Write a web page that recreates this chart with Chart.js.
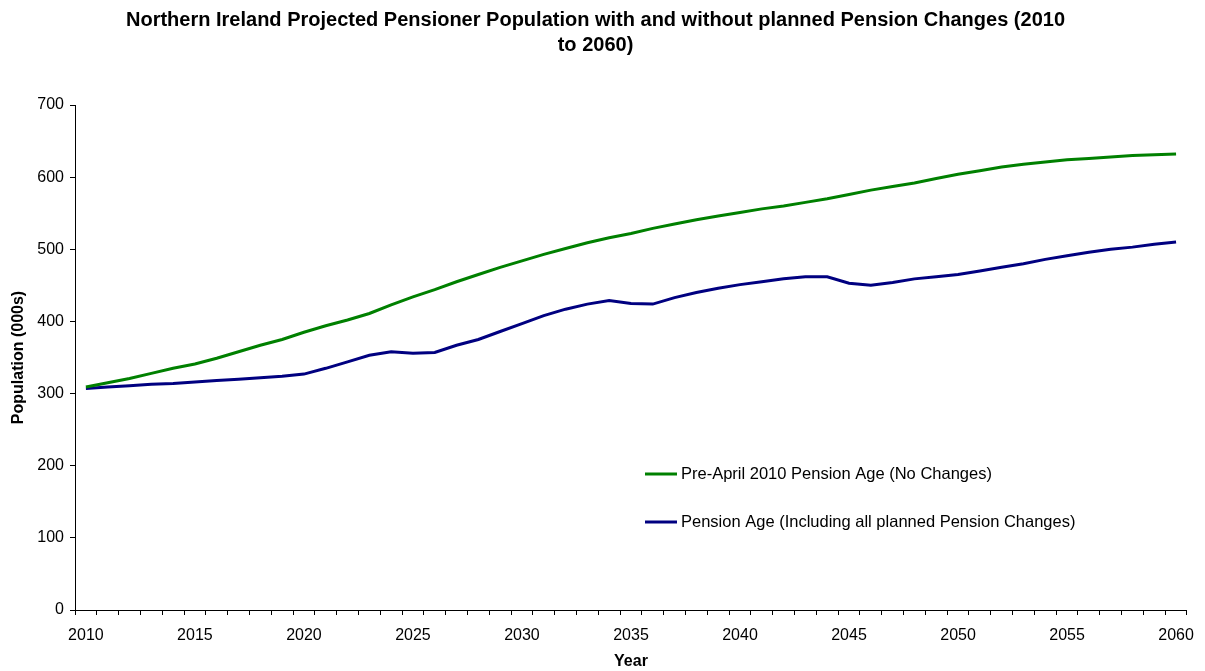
<!DOCTYPE html>
<html>
<head>
<meta charset="utf-8">
<title>Northern Ireland Projected Pensioner Population</title>
<script src="https://cdn.jsdelivr.net/npm/chart.js@4.4.1/dist/chart.umd.min.js"></script>
<style>
  html, body { margin: 0; padding: 0; background: #fff; }
  #chart { display: block; }
</style>
</head>
<body>
<canvas id="chart" width="1205" height="671"></canvas>
<script>
const years = [
  "2010", "2011", "2012", "2013", "2014", "2015", "2016", "2017", "2018", "2019",
  "2020", "2021", "2022", "2023", "2024", "2025", "2026", "2027", "2028", "2029",
  "2030", "2031", "2032", "2033", "2034", "2035", "2036", "2037", "2038", "2039",
  "2040", "2041", "2042", "2043", "2044", "2045", "2046", "2047", "2048", "2049",
  "2050", "2051", "2052", "2053", "2054", "2055", "2056", "2057", "2058", "2059",
  "2060",
];

// Pensioners (000s) under the pre-April 2010 pension age
const noChanges = [
  309, 315, 321, 328, 335, 341, 349, 358, 367, 375,
  385, 394, 402, 411, 423, 434, 444, 455, 465, 475,
  484, 493, 501, 509, 516, 522, 529, 535, 541, 546,
  551, 556, 560, 565, 570, 576, 582, 587, 592, 598,
  604, 609, 614, 618, 621, 624, 626, 628, 630, 631,
  632,
];

// Pensioners (000s) with all planned pension age changes
const withChanges = [
  307, 309, 311, 313, 314, 316, 318, 320, 322, 324,
  327, 335, 344, 353, 358, 356, 357, 367, 375, 386,
  397, 408, 417, 424, 429, 425, 424, 433, 440, 446,
  451, 455, 459, 462, 462, 453, 450, 454, 459, 462,
  465, 470, 475, 480, 486, 491, 496, 500, 503, 507,
  510,
];

const yTicks = [0, 100, 200, 300, 400, 500, 600, 700];

const FONT = "'Liberation Sans', Arial, Helvetica, sans-serif";
const GREEN = "#008000";
const NAVY = "#000080";

const series = [
  { label: "Pre-April 2010 Pension Age (No Changes)", data: noChanges, color: GREEN },
  { label: "Pension Age (Including all planned Pension Changes)", data: withChanges, color: NAVY },
];

// legend sits inside the plot, below the lines
const insideLegend = {
  id: "insideLegend",
  afterDraw(chart) {
    const { ctx, chartArea } = chart;
    const x0 = chartArea.left + 570;
    const rows = [chartArea.top + 369, chartArea.top + 417];
    ctx.save();
    ctx.font = "16.5px " + FONT;
    ctx.textBaseline = "middle";
    ctx.textAlign = "left";
    series.forEach((s, i) => {
      ctx.strokeStyle = s.color;
      ctx.lineWidth = 3;
      ctx.beginPath();
      ctx.moveTo(x0, rows[i]);
      ctx.lineTo(x0 + 32, rows[i]);
      ctx.stroke();
      ctx.fillStyle = "#000";
      ctx.fillText(s.label, x0 + 36, rows[i]);
    });
    ctx.restore();
  },
};

new Chart(document.getElementById("chart"), {
  type: "line",
  data: {
    labels: years,
    datasets: series.map((s) => ({
      label: s.label,
      data: s.data,
      borderColor: s.color,
      backgroundColor: s.color,
      borderWidth: 3,
      pointRadius: 0,
      tension: 0,
      fill: false,
    })),
  },
  options: {
    responsive: false,
    animation: false,
    events: [],
    layout: { padding: { left: 0, right: 14, top: 0, bottom: 0 } },
    plugins: {
      legend: { display: false },
      tooltip: { enabled: false },
      title: {
        display: true,
        text: [
          "Northern Ireland Projected Pensioner Population with and without planned Pension Changes (2010",
          "to 2060)",
        ],
        color: "#000",
        font: { family: FONT, size: 20, weight: "bold", lineHeight: 1.25 },
        padding: { top: 8, bottom: 47 },
      },
    },
    scales: {
      x: {
        type: "category",
        offset: true,
        afterFit: (scale) => { scale.height = 61; },
        grid: {
          offset: true,
          drawOnChartArea: false,
          drawTicks: true,
          tickLength: 5,
          color: "#000",
        },
        border: { display: true, color: "#000", width: 1 },
        ticks: {
          autoSkip: false,
          maxRotation: 0,
          padding: 11,
          color: "#000",
          font: { family: FONT, size: 16 },
          callback: function (value, index) {
            return index % 5 === 0 ? this.getLabelForValue(value) : "";
          },
        },
        title: {
          display: true,
          text: "Year",
          color: "#000",
          font: { family: FONT, size: 16, weight: "bold" },
          padding: { top: 0, bottom: 0 },
        },
      },
      y: {
        min: 0,
        max: 700,
        afterFit: (scale) => { scale.width = 75; },
        afterBuildTicks: (scale) => {
          scale.ticks = yTicks.map((v) => ({ value: v }));
        },
        grid: {
          drawOnChartArea: false,
          drawTicks: true,
          tickLength: 5,
          color: "#000",
        },
        border: { display: true, color: "#000", width: 1 },
        ticks: {
          padding: 6,
          color: "#000",
          font: { family: FONT, size: 16 },
        },
        title: {
          display: true,
          text: "Population (000s)",
          color: "#000",
          font: { family: FONT, size: 16, weight: "bold" },
          padding: { top: 9, bottom: 0 },
        },
      },
    },
  },
  plugins: [insideLegend],
});
</script>
</body>
</html>
